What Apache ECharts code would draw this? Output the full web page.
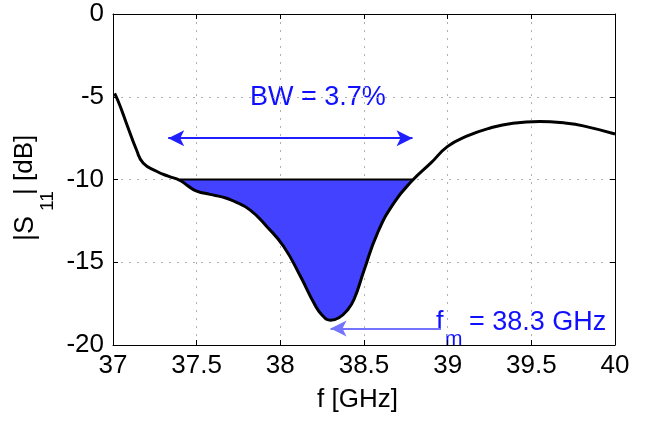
<!DOCTYPE html>
<html>
<head>
<meta charset="utf-8">
<script src="https://cdn.jsdelivr.net/npm/echarts@6/dist/echarts.min.js"></script>
<style>html,body{margin:0;padding:0;background:#fff}#c{width:647px;height:422px}</style>
</head>
<body>
<div id="c"></div>
<script>
// Frequency (GHz) and |S11| (dB)
var freq = [37.01,37.04,37.08,37.14,37.18,37.26,37.33,37.40,37.45,37.50,37.58,37.65,37.72,37.82,37.92,38.02,38.12,38.20,38.25,38.30,38.35,38.40,38.44,38.50,38.58,38.68,38.79,38.90,39.00,39.11,39.25,39.39,39.55,39.71,39.81,40.00];
var s11  = [-4.8,-5.5,-6.6,-8.2,-9.0,-9.5,-9.8,-10.05,-10.4,-10.7,-10.9,-11.05,-11.3,-11.85,-12.85,-14.05,-15.85,-17.45,-18.2,-18.5,-18.35,-17.9,-17.25,-15.5,-13.25,-11.4,-10.05,-9.0,-8.0,-7.4,-6.9,-6.6,-6.5,-6.6,-6.76,-7.25];
var threshold = -10;
var bwStart = 37.40, bwEnd = 38.79;
var bwArrowStart = 37.33, bwArrowY = -7.5;
var fmFreq = 38.3, fmArrowFrom = 38.96, fmArrowY = -19.0;
var xTicks = [37, 37.5, 38, 38.5, 39, 39.5, 40];
var yTicks = [-20, -15, -10, -5, 0];

var curve = freq.map(function(f, i){ return [f, s11[i]]; });
var fill = [];
curve.forEach(function(p){ if (p[0] >= bwStart && p[0] <= bwEnd) fill.push([p[0], Math.min(p[1], threshold)]); });

var FONT = 'Liberation Sans, Arial, sans-serif';
var chart = echarts.init(document.getElementById('c'));
var gridLine = {show:true, lineStyle:{color:'#b0b0b0', type:[2,6], width:1}};
var tick = {show:true, inside:true, length:5, lineStyle:{color:'#000'}};
chart.setOption({
  animation:false,
  grid:{left:113, right:32, top:14, bottom:77, show:false},
  xAxis:[{type:'value', min:37, max:40, interval:0.5,
    axisLine:{show:true, onZero:false, lineStyle:{color:'#000', width:1}},
    axisTick:tick, splitLine:gridLine,
    axisLabel:{color:'#000', fontSize:26, fontFamily:FONT, margin:8,
      formatter:function(v){ return xTicks.indexOf(v) >= 0 ? String(v) : ''; }}},
    {type:'value', position:'top', min:37, max:40, interval:0.5,
    axisLine:{show:true, onZero:false, lineStyle:{color:'#000', width:1}},
    axisTick:tick, splitLine:{show:false}, axisLabel:{show:false}}],
  yAxis:[{type:'value', min:-20, max:0, interval:5,
    axisLine:{show:true, onZero:false, lineStyle:{color:'#000', width:1}},
    axisTick:tick, splitLine:gridLine,
    axisLabel:{color:'#000', fontSize:26, fontFamily:FONT, margin:9,
      formatter:function(v){ return yTicks.indexOf(v) >= 0 ? String(v) : ''; }}},
    {type:'value', position:'right', min:-20, max:0, interval:5,
    axisLine:{show:true, onZero:false, lineStyle:{color:'#000', width:1}},
    axisTick:tick, splitLine:{show:false}, axisLabel:{show:false}}],
  series:[
    {type:'line', data:fill, smooth:0.5, showSymbol:false,
     lineStyle:{width:0}, areaStyle:{color:'#4343ff', opacity:1, origin:threshold}, z:2},
    {type:'line', data:[[bwStart, threshold],[bwEnd, threshold]], showSymbol:false,
     lineStyle:{color:'#000', width:2}, z:3},
    {type:'line', data:curve, smooth:0.5, showSymbol:false,
     lineStyle:{color:'#000', width:3}, z:4,
     markLine:{silent:true, animation:false, label:{show:false}, z:5,
       data:[
         [{coord:[bwArrowStart, bwArrowY], symbol:'arrow', symbolSize:[12,16], lineStyle:{color:'#1f1fff', width:2, type:'solid'}},
          {coord:[bwEnd, bwArrowY], symbol:'arrow', symbolSize:[12,16]}],
         [{coord:[fmArrowFrom, fmArrowY], symbol:'none', lineStyle:{color:'#7474ff', width:2, type:'solid'}},
          {coord:[fmFreq, fmArrowY], symbol:'arrow', symbolSize:[12,16]}]
       ]}}
  ],
  graphic:[
    {type:'text', left:250, top:84, style:{text:'BW = 3.7%', font:'27px '+FONT, fill:'#1010ff'}},
    {type:'text', x:436, y:309, style:{text:'f', font:'27px '+FONT, fill:'#1010ff'}},
    {type:'text', x:445, y:329, style:{text:'m', font:'21px '+FONT, fill:'#1010ff'}},
    {type:'text', x:469, y:309, style:{text:'= 38.3 GHz', font:'27px '+FONT, fill:'#1010ff'}},
    {type:'text', x:317, y:387, style:{text:'f [GHz]', font:'26px '+FONT, fill:'#000'}},
    {type:'group', x:12, y:241, rotation:Math.PI/2, children:[
      {type:'text', x:0, y:0, style:{text:'|S', font:'27px '+FONT, fill:'#000'}},
      {type:'text', x:30, y:26, style:{text:'11', font:'19px '+FONT, fill:'#000'}},
      {type:'text', x:46, y:0, style:{text:'| [dB]', font:'26px '+FONT, fill:'#000'}}
    ]}
  ]
});
</script>
</body>
</html>
